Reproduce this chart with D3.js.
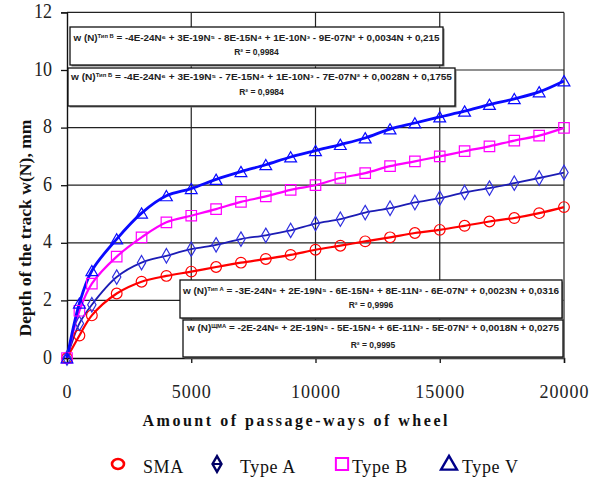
<!DOCTYPE html>
<html><head><meta charset="utf-8">
<script src="https://cdn.jsdelivr.net/npm/d3@7"></script>
<style>body{margin:0;background:#fff}svg{display:block}</style>
</head><body>
<svg id="c" width="597" height="477"></svg>
<script>
// ---- data ----
const passes = [0,500,1000,2000,3000,4000,5000,6000,7000,8000,9000,10000,11000,12000,13000,14000,15000,16000,17000,18000,19000,20000];
const sma   = [0,0.78,1.48,2.24,2.65,2.85,3.00,3.16,3.31,3.44,3.58,3.76,3.90,4.05,4.19,4.34,4.45,4.59,4.74,4.86,5.03,5.24];
const typeA = [0,1.20,1.85,2.81,3.31,3.55,3.78,3.93,4.13,4.26,4.43,4.67,4.82,5.05,5.20,5.40,5.55,5.75,5.90,6.07,6.25,6.44];
const typeB = [0,1.64,2.58,3.52,4.19,4.71,4.94,5.17,5.42,5.61,5.84,6.00,6.25,6.42,6.66,6.83,7.00,7.18,7.35,7.55,7.72,7.99];
const typeV = [0,1.90,3.03,4.13,5.03,5.63,5.88,6.20,6.47,6.71,6.98,7.20,7.41,7.64,7.95,8.16,8.37,8.57,8.80,9.00,9.24,9.62];
const seriesNames = ["SMA","Type A","Type B","Type V"];
const xTicks = [0,5000,10000,15000,20000];
const yTicks = [0,2,4,6,8,10,12];
const xTitle = "Amount of passage-ways of wheel";
const yTitle = "Depth of the track w(N), mm";
// trendline equations
const eqTags = ["Тип В","Тип Б","Тип А","ЩМА"];
const eqCoefs = [
  ["-4E-24","3E-19","-8E-15","1E-10","-9E-07","0,0034","0,215"],
  ["-4E-24","3E-19","-7E-15","1E-10","-7E-07","0,0028","0,1755"],
  ["-3E-24","2E-19","-6E-15","8E-11","-6E-07","0,0023","0,0316"],
  ["-2E-24","2E-19","-5E-15","6E-11","-5E-07","0,0018","0,0275"]
];
const eqR2 = ["0,9984","0,9984","0,9996","0,9995"];

// ---- layout ----
const svg = d3.select("#c");
const x = d3.scaleLinear().domain([0,20000]).range([67,564]);
const y = d3.scaleLinear().domain([0,12]).range([358,12.4]);
const serif = "'Liberation Serif','Times New Roman',serif";
const sans = "'Liberation Sans',Arial,sans-serif";

// gridlines
svg.append("g").selectAll("line").data(yTicks.filter(d=>d>0)).join("line")
  .attr("x1",x(0)).attr("x2",x(20000)).attr("y1",d=>y(d)).attr("y2",d=>y(d))
  .attr("stroke","#222").attr("stroke-width",1.2);
svg.append("g").selectAll("line").data(xTicks.filter(d=>d>0)).join("line")
  .attr("x1",d=>x(d)).attr("x2",d=>x(d)).attr("y1",y(0)).attr("y2",y(12))
  .attr("stroke","#222").attr("stroke-width",1.2);

// axes
const xAxis = svg.append("g").attr("transform",`translate(0,${y(0)})`)
  .call(d3.axisBottom(x).tickValues(xTicks).tickSize(5).tickPadding(22).tickFormat(d3.format("d")));
const yAxis = svg.append("g").attr("transform",`translate(${x(0)},0)`)
  .call(d3.axisLeft(y).tickValues(yTicks).tickSize(6).tickPadding(9).tickFormat(d3.format("d")));
[xAxis,yAxis].forEach(g=>{
  g.select(".domain").attr("stroke","#111").attr("stroke-width",1.4);
  g.selectAll(".tick line").attr("stroke","#111").attr("stroke-width",1.3);
  g.selectAll("text").attr("font-family",serif).attr("font-size",18).attr("fill","#222");
});
xAxis.selectAll("text").attr("letter-spacing","1px");
yAxis.selectAll("text").attr("transform","scale(1,1.15)").attr("dy","0.25em");

// curves & markers
const colors = {"SMA":"#ff0000","Type A":"#1c1cb4","Type B":"#ff00ff","Type V":"#0a0aff"};
const widths = {"SMA":2.2,"Type A":1.8,"Type B":2.2,"Type V":2.8};
const values = {"SMA":sma,"Type A":typeA,"Type B":typeB,"Type V":typeV};
const line = d3.line().x(d=>x(d[0])).y(d=>y(d[1])).curve(d3.curveCatmullRom.alpha(0.5));
const symbolOf = {
  "SMA": d3.symbol().type(d3.symbolCircle).size(90),
  "Type A": d3.symbol().type(d3.symbolDiamond).size(60),
  "Type B": d3.symbol().type(d3.symbolSquare).size(110),
  "Type V": d3.symbol().type(d3.symbolTriangle).size(60)
};
seriesNames.forEach(name=>{
  const pts = passes.map((p,i)=>[p,values[name][i]]);
  svg.append("path").attr("d",line(pts)).attr("fill","none")
    .attr("stroke",colors[name]).attr("stroke-width",widths[name]);
});
seriesNames.forEach(name=>{
  const pts = passes.map((p,i)=>[p,values[name][i]]);
  svg.append("g").selectAll("path").data(pts).join("path")
    .attr("d",symbolOf[name]())
    .attr("transform",d=>`translate(${x(d[0])},${y(d[1])+(name==="Type V"?1.5:0)})`)
    .attr("fill","none").attr("stroke",name==="Type A"?"#2f2fe0":colors[name]).attr("stroke-width",1.2);
});

// equation boxes
const sup = ["⁶","⁵","⁴","³","²",""];
const boxes = [
  {x0:70,x1:443,y0:27,y1:65,b1:41,b2:55,len:366},
  {x0:68,x1:455,y0:68,y1:106,b1:80,b2:95,len:381},
  {x0:180,x1:562,y0:280,y1:318,b1:294,b2:308,len:376},
  {x0:183,x1:563,y0:320,y1:357,b1:331,b2:348,len:372}
];
boxes.forEach((b,i)=>{
  const g = svg.append("g");
  g.append("rect").attr("x",b.x0+1.5).attr("y",b.y0+1.5).attr("width",b.x1-b.x0).attr("height",b.y1-b.y0).attr("fill","#777");
  g.append("rect").attr("x",b.x0).attr("y",b.y0).attr("width",b.x1-b.x0).attr("height",b.y1-b.y0)
    .attr("fill","#fff").attr("stroke","#111").attr("stroke-width",1.3);
  const cx = (b.x0+b.x1)/2;
  const t = g.append("text").attr("x",cx).attr("y",b.b1).attr("text-anchor","middle")
    .attr("font-family",sans).attr("font-size",8.5).attr("font-weight","bold").attr("fill","#222")
    .attr("textLength",b.len).attr("lengthAdjust","spacingAndGlyphs");
  t.append("tspan").text("w (N)");
  t.append("tspan").attr("font-size",5).attr("dy",-3.5).text(eqTags[i]);
  let s = "";
  eqCoefs[i].forEach((c,k)=>{
    const neg = c.startsWith("-");
    const v = neg ? c.slice(1) : c;
    const sign = k===0 ? (neg?" = -":" = ") : (neg?" - ":" + ");
    const pow = k<5 ? "N"+sup[k] : (k===5 ? "N" : "");
    s += sign + v + pow;
  });
  t.append("tspan").attr("dy",3.5).text(s);
  g.append("text").attr("x",cx).attr("y",b.b2).attr("text-anchor","middle")
    .attr("font-family",sans).attr("font-size",8.5).attr("font-weight","bold").attr("fill","#222")
    .text("R² = " + eqR2[i]);
});

// titles
svg.append("text").attr("x",295).attr("y",426).attr("text-anchor","middle")
  .attr("font-family",serif).attr("font-weight","bold").attr("font-size",16).attr("fill","#111")
  .attr("textLength",305).attr("lengthAdjust","spacing").text(xTitle);
svg.append("text").attr("transform","translate(31,228) rotate(-90)").attr("text-anchor","middle")
  .attr("font-family",serif).attr("font-weight","bold").attr("font-size",16).attr("fill","#111")
  .attr("textLength",217).attr("lengthAdjust","spacingAndGlyphs").text(yTitle);

// legend
const legend = [
  {name:"SMA", mx:118, tx:143},
  {name:"Type A", mx:217, tx:240},
  {name:"Type B", mx:342, tx:352},
  {name:"Type V", mx:449, tx:462}
];
const lcol = {"SMA":"#ff0000","Type A":"#000066","Type B":"#ff00ff","Type V":"#00008a"};
const lsym = {
  "SMA": null,
  "Type A": d3.symbol().type(d3.symbolDiamond).size(70),
  "Type B": d3.symbol().type(d3.symbolSquare).size(150),
  "Type V": d3.symbol().type(d3.symbolTriangle).size(110)
};
legend.forEach(l=>{
  const g = svg.append("g");
  if (l.name==="SMA") {
    g.append("ellipse").attr("cx",l.mx).attr("cy",464).attr("rx",6).attr("ry",5)
      .attr("fill","none").attr("stroke",lcol[l.name]).attr("stroke-width",2.6);
  } else {
    g.append("path").attr("d",lsym[l.name]()).attr("transform",`translate(${l.mx},${l.name==="Type V"?465:464})`)
      .attr("fill","none").attr("stroke",lcol[l.name]).attr("stroke-width",l.name==="Type B"?2:2.4);
    if (l.name==="Type A") g.append("line").attr("x1",l.mx-4).attr("x2",l.mx+4).attr("y1",464).attr("y2",464)
      .attr("stroke",lcol[l.name]).attr("stroke-width",2);
  }
  g.append("text").attr("x",l.tx).attr("y",473).attr("font-family",serif).attr("font-size",18)
    .attr("letter-spacing","0.6px").attr("fill","#111").text(l.name);
});
</script>
</body></html>
